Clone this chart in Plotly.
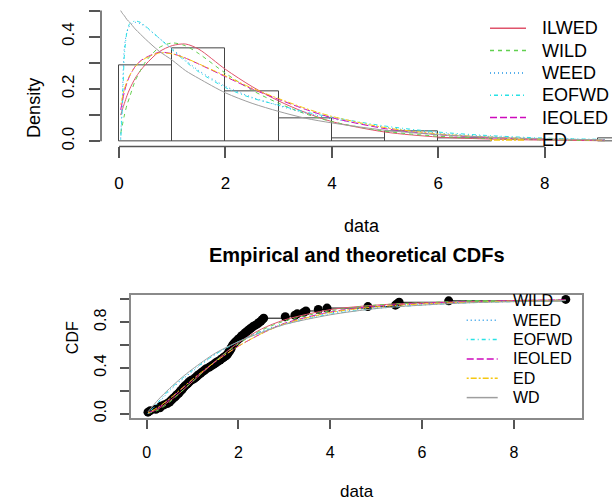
import numpy as np
import plotly.graph_objects as go

# ---------------- data ----------------
sample = [
    0.03, 0.08, 0.20, 0.29, 0.31, 0.38, 0.45, 0.50, 0.53, 0.56, 0.60, 0.63,
    0.66, 0.70, 0.72, 0.75, 0.78, 0.80, 0.83, 0.87, 0.90, 0.93, 0.97,
    1.03, 1.07, 1.10, 1.14, 1.18, 1.22, 1.26, 1.30, 1.36, 1.41, 1.46, 1.50,
    1.55, 1.60, 1.64, 1.68, 1.73, 1.76, 1.78, 1.80, 1.82, 1.84, 1.85, 1.87,
    1.89, 1.92, 1.95, 1.98,
    2.02, 2.05, 2.08, 2.12, 2.15, 2.19, 2.23, 2.27, 2.31, 2.36, 2.41, 2.45,
    2.49, 2.52, 2.55,
    3.02, 3.23, 3.28, 3.42, 3.47, 3.74, 3.93,
    4.82, 5.42, 5.46, 5.50, 6.58, 9.13,
]

names = ["ILWED", "WILD", "WEED", "EOFWD", "IEOLED", "ED", "WD"]
colors = ["#DF536B", "#61D04F", "#2297E6", "#28E2E5", "#CD0BBC", "#F5C710", "#9E9E9E"]
dashes = ["solid", "4px,4px", "1px,3px", "1px,3px,4px,3px", "7px,3px", "2px,2px,6px,2px", "solid"]

dens_x = [0.03, 0.06, 0.1, 0.15, 0.2, 0.3, 0.4, 0.5, 0.75, 1.0, 1.25, 1.5,
          2.0, 2.5, 3.0, 3.5, 4.0, 5.0, 6.0, 7.0, 8.0, 9.13]
dens_ILWED = [0.10, 0.12, 0.145, 0.175, 0.20, 0.24, 0.27, 0.294, 0.342, 0.366, 0.372, 0.352,
              0.275, 0.209, 0.154, 0.11, 0.075, 0.035, 0.016, 0.008, 0.004, 0.002]
dens_WILD = [0.03, 0.06, 0.10, 0.14, 0.17, 0.23, 0.27, 0.305, 0.358, 0.376, 0.365, 0.335,
             0.26, 0.195, 0.145, 0.105, 0.075, 0.038, 0.019, 0.010, 0.005, 0.002]
dens_WEED = [0.01, 0.16, 0.36, 0.42, 0.442, 0.455, 0.45, 0.437, 0.395, 0.353, 0.31, 0.27,
             0.21, 0.168, 0.136, 0.108, 0.086, 0.053, 0.031, 0.018, 0.010, 0.005]
dens_EOFWD = [0.005, 0.12, 0.33, 0.42, 0.45, 0.46, 0.455, 0.44, 0.395, 0.35, 0.305, 0.265,
              0.205, 0.165, 0.138, 0.112, 0.092, 0.058, 0.035, 0.021, 0.012, 0.007]
dens_IEOLED = [0.12, 0.15, 0.19, 0.225, 0.25, 0.285, 0.307, 0.32, 0.34, 0.335, 0.318, 0.295,
               0.247, 0.20, 0.16, 0.122, 0.09, 0.048, 0.025, 0.013, 0.007, 0.004]
dens_ED = [0.14, 0.165, 0.20, 0.23, 0.252, 0.285, 0.305, 0.318, 0.338, 0.334, 0.318, 0.296,
           0.25, 0.203, 0.163, 0.126, 0.095, 0.052, 0.028, 0.015, 0.008, 0.004]
dens_WD = [0.50, 0.49, 0.48, 0.465, 0.455, 0.43, 0.41, 0.39, 0.345, 0.31, 0.27, 0.24,
           0.185, 0.145, 0.114, 0.088, 0.07, 0.042, 0.025, 0.015, 0.009, 0.005]

cdf_x = [0.03, 0.25, 0.5, 0.75, 1.0, 1.5, 2.0, 2.5, 3.0, 4.0, 5.0, 6.0, 7.0, 8.0, 9.13]
cdf_ILWED = [0.002, 0.04, 0.11, 0.19, 0.28, 0.46, 0.62, 0.74, 0.82, 0.91, 0.95, 0.97, 0.98, 0.99, 0.995]
cdf_WILD = [0.001, 0.03, 0.10, 0.19, 0.28, 0.46, 0.61, 0.73, 0.81, 0.90, 0.95, 0.97, 0.985, 0.99, 0.995]
cdf_WEED = [0.0, 0.09, 0.20, 0.29, 0.37, 0.52, 0.63, 0.72, 0.79, 0.88, 0.93, 0.96, 0.975, 0.985, 0.99]
cdf_EOFWD = [0.0, 0.10, 0.21, 0.30, 0.38, 0.52, 0.63, 0.715, 0.78, 0.87, 0.92, 0.95, 0.97, 0.98, 0.99]
cdf_IEOLED = [0.004, 0.05, 0.125, 0.21, 0.295, 0.455, 0.59, 0.70, 0.79, 0.89, 0.94, 0.965, 0.98, 0.99, 0.995]
cdf_ED = [0.005, 0.055, 0.13, 0.215, 0.30, 0.455, 0.59, 0.70, 0.785, 0.885, 0.935, 0.96, 0.975, 0.985, 0.99]
cdf_WD = [0.015, 0.12, 0.22, 0.31, 0.39, 0.53, 0.63, 0.71, 0.78, 0.865, 0.92, 0.95, 0.97, 0.98, 0.99]

dens_series = [dens_ILWED, dens_WILD, dens_WEED, dens_EOFWD, dens_IEOLED, dens_ED, dens_WD]
cdf_series = [cdf_ILWED, cdf_WILD, cdf_WEED, cdf_EOFWD, cdf_IEOLED, cdf_ED, cdf_WD]

# legend entries visible in each panel of the reference
top_legend = ["ILWED", "WILD", "WEED", "EOFWD", "IEOLED", "ED"]
bottom_legend = ["WILD", "WEED", "EOFWD", "IEOLED", "ED", "WD"]

# ---------------- geometry helpers (screen pixels -> paper) ----------------
W, H = 612, 502
def px(x):
    return x / W
def py(y):
    return 1 - y / H

FONT = "Liberation Sans, Arial, sans-serif"
AX = "#555555"

fig = go.Figure()

# ---- top: histogram + densities ----
fig.add_trace(go.Histogram(
    x=sample, histnorm="probability density",
    xbins=dict(start=0, end=10, size=1),
    marker=dict(color="rgba(255,255,255,0)", line=dict(color="#444444", width=1)),
    showlegend=False, xaxis="x", yaxis="y", hoverinfo="skip"))

for i, nm in enumerate(names):
    fig.add_trace(go.Scatter(
        x=dens_x, y=dens_series[i], mode="lines", name=nm,
        line=dict(color=colors[i], width=1, dash=dashes[i], shape="spline", smoothing=0.8),
        xaxis="x", yaxis="y", showlegend=False))

# ---- bottom: ECDF + CDFs ----
xs = np.sort(np.array(sample))
ys = np.arange(1, len(xs) + 1) / len(xs)
fig.add_trace(go.Scatter(
    x=xs, y=ys, mode="lines+markers", line=dict(color="black", width=1, shape="hv"),
    marker=dict(color="black", size=9), showlegend=False, xaxis="x2", yaxis="y2"))

for i, nm in enumerate(names):
    fig.add_trace(go.Scatter(
        x=cdf_x, y=cdf_series[i], mode="lines", name=nm,
        line=dict(color=colors[i], width=1, dash=dashes[i], shape="spline", smoothing=0.8),
        xaxis="x2", yaxis="y2", showlegend=False))

top_dom = [py(147.6), py(5.4)]
top_range = [-0.02, 0.52]
bot_dom = [py(421.5), py(297.2)]

shapes = [
    dict(type="line", xref="x", yref="paper", x0=0, x1=8, y0=top_dom[0], y1=top_dom[0],
         line=dict(color=AX, width=1.5)),
    dict(type="line", xref="paper", yref="y", x0=px(101), x1=px(101), y0=0, y1=0.5,
         line=dict(color=AX, width=1.5)),
]
annotations = [
    dict(text="Density", x=px(22), y=py(76.5), xref="paper", yref="paper",
         showarrow=False, textangle=-90, font=dict(size=18)),
    dict(text="data", x=px(362), y=py(228), xref="paper", yref="paper",
         showarrow=False, font=dict(size=18)),
    dict(text="<b>Empirical and theoretical CDFs</b>", x=px(356.5), y=py(257),
         xref="paper", yref="paper", showarrow=False, font=dict(size=20)),
    dict(text="CDF", x=px(62), y=py(359), xref="paper", yref="paper",
         showarrow=False, textangle=-90, font=dict(size=16)),
    dict(text="data", x=px(356.5), y=py(507), xref="paper", yref="paper",
         yanchor="bottom", showarrow=False, font=dict(size=17)),
]

# legend keys drawn in the way R's legend() lays them out
for k, nm in enumerate(top_legend):
    i = names.index(nm)
    yc = 28.5 + 22.5 * k
    shapes.append(dict(type="line", xref="paper", yref="paper",
                       x0=px(490), x1=px(526), y0=py(yc), y1=py(yc),
                       line=dict(color=colors[i], width=1.5, dash=dashes[i])))
    annotations.append(dict(text=nm, x=px(540), y=py(yc), xref="paper", yref="paper",
                            xanchor="left", yanchor="middle", showarrow=False,
                            font=dict(size=18)))
for k, nm in enumerate(bottom_legend):
    i = names.index(nm)
    yc = 303.3 + 19.5 * k
    shapes.append(dict(type="line", xref="paper", yref="paper",
                       x0=px(466.7), x1=px(497.7), y0=py(yc), y1=py(yc),
                       line=dict(color=colors[i], width=1.5, dash=dashes[i])))
    annotations.append(dict(text=nm, x=px(510.5), y=py(yc), xref="paper", yref="paper",
                            xanchor="left", yanchor="middle", showarrow=False,
                            font=dict(size=16)))

fig.update_layout(
    width=W, height=H, margin=dict(l=0, r=0, t=0, b=0),
    paper_bgcolor="white", plot_bgcolor="white",
    font=dict(family=FONT, color="black"),
    bargap=0, showlegend=False,
    xaxis=dict(domain=[px(101), 1], range=[-0.34, 9.265], anchor="y",
               tickvals=[0, 2, 4, 6, 8], ticks="outside", ticklen=11, tickcolor=AX, tickwidth=1.5,
               showline=False, showgrid=False, zeroline=False,
               tickfont=dict(size=17), ticklabelstandoff=10),
    yaxis=dict(domain=top_dom, range=top_range, anchor="x",
               tickvals=[0, 0.1, 0.2, 0.3, 0.4, 0.5],
               ticktext=["0.0", "", "0.2", "", "0.4", ""], tickangle=-90,
               ticks="outside", ticklen=11, tickcolor=AX, tickwidth=1.5,
               showline=False, showgrid=False, zeroline=False,
               tickfont=dict(size=17), ticklabelstandoff=8),
    xaxis2=dict(domain=[px(131), px(582.3)], range=[-0.34, 9.49], anchor="y2",
                tickvals=[0, 2, 4, 6, 8], ticks="outside", ticklen=9, tickcolor=AX, tickwidth=1.5,
                showline=True, mirror=True, linecolor="#8a8a8a", linewidth=2,
                showgrid=False, zeroline=False, tickfont=dict(size=16), ticklabelstandoff=10),
    yaxis2=dict(domain=bot_dom, range=[-0.04, 1.04], anchor="x2",
                tickvals=[0, 0.2, 0.4, 0.6, 0.8, 1.0],
                ticktext=["0.0", "", "0.4", "", "0.8", ""], tickangle=-90,
                ticks="outside", ticklen=9, tickcolor=AX, tickwidth=1.5,
                showline=True, mirror=True, linecolor="#8a8a8a", linewidth=2,
                showgrid=False, zeroline=False, tickfont=dict(size=16), ticklabelstandoff=8),
    shapes=shapes,
    annotations=annotations,
)

# place the 612x502 figure flush with the top-left corner of the page
fig.write_html("out.html", config={"displayModeBar": False},
               post_script="document.body.style.margin='0px';document.body.style.overflow='hidden';")
